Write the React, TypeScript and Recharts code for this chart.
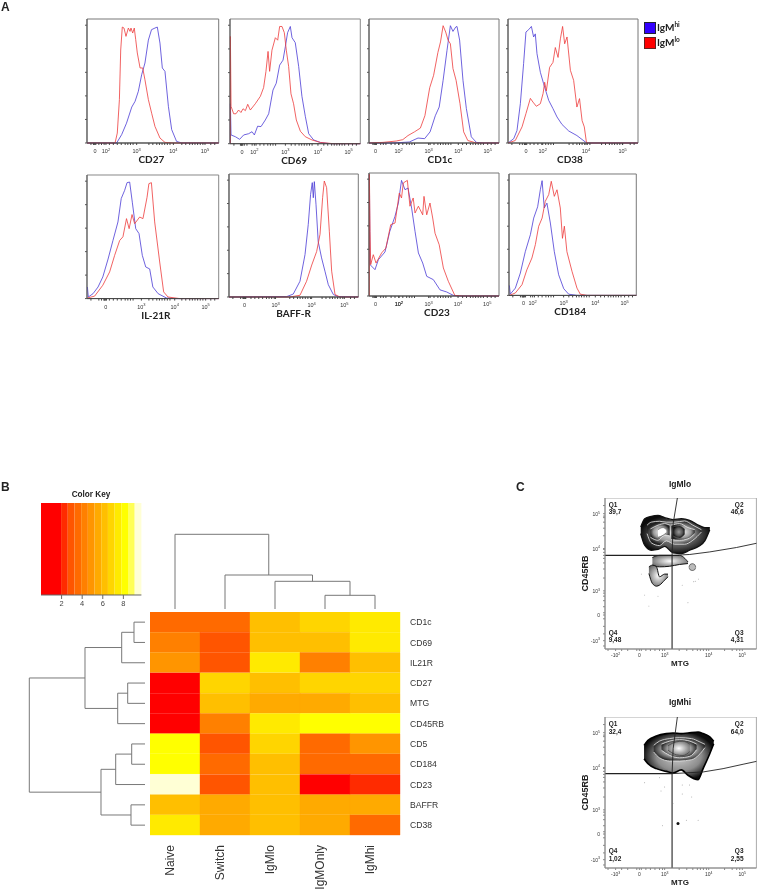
import React from 'react';
import {
  Area,
  Bar,
  BarChart,
  Cell,
  ComposedChart,
  Line,
  LineChart,
  ReferenceArea,
  XAxis,
  YAxis,
} from 'recharts';

// Panel A: histograms, [channel %, % of max]
const cd27Hi = [[0,0],[22.5,0],[26.3,6.7],[30,16],[34,29],[36.5,33.6],[39,41.7],[41.5,55],[44,64.5],[46.6,83],[49,91.4],[51.6,92.7],[53.4,93.5],[55.4,80.6],[57.2,60.5],[59.2,57.8],[61.8,29.6],[64.3,10.8],[68,1.3],[71.9,0],[100,0]];
const cd27Lo = [[0,0],[21.3,0],[23,8],[24.6,35],[25.6,75],[26.8,93.5],[28.1,92.7],[29.6,86],[31.4,92.7],[32.7,90],[33.4,92.7],[34.7,88.7],[35.9,92.7],[37,83.3],[38.2,72.6],[40.3,60.5],[42.3,60.5],[44,51],[46.6,35],[49.1,24],[51.6,13.4],[55.4,4],[59.2,0.5],[65.6,0],[100,0]];
const cd69Hi = [[0.3,0],[0.3,32],[0.8,7],[4.1,5.6],[7.4,3.5],[10.5,7],[14.3,8],[16.9,9.6],[18.7,7],[21.2,14],[23.8,13.7],[27.1,19],[29.7,24],[33,43],[35.5,48.5],[38.1,63],[40.7,67],[42.5,78],[44.2,89],[46.3,94],[47.6,85],[50.1,81],[52.7,62],[55.2,38],[57.8,22],[60.4,8],[64.2,3],[69.3,1],[77,0],[100,0]];
const cd69Lo = [[0.3,0],[0.3,86],[0.8,30],[2.8,24],[4.6,24],[6.6,27],[8.4,25],[10,28],[11.8,26.5],[13.6,31.6],[15.6,27],[19.4,32],[23.3,38],[25.8,45],[27.6,58],[29.2,74],[30.4,58],[32.2,75],[34.8,85],[36.6,83],[38.1,94],[39.9,94],[41.7,89],[43.2,75],[45,62],[46.8,40],[48.8,32],[50.9,19],[54,10],[57.8,5.6],[62.9,3],[69.3,1],[79.5,0],[100,0]];
const cd1cHi = [[0,0],[18.5,0],[31,0.8],[37.7,4],[42.8,3.5],[47,9],[51,22],[54,29],[57,50.5],[60,74.7],[62.6,94.6],[64.6,90],[66.7,93.5],[67.7,94],[69.7,83],[72.3,50.5],[74.9,27.7],[78.7,5],[82.6,0.5],[87.7,0],[100,0]];
const cd1cLo = [[0,0],[10.8,0.5],[21,1.6],[26,2.7],[30,6],[35,9],[39.5,12],[43,22],[46.7,44.6],[49.7,54.6],[53,73],[55,81.5],[57,94.6],[59,89.5],[60.8,83],[62.6,80],[64.6,60],[67,50.5],[70,31.7],[72.8,9],[76,2],[82.6,0],[100,0]];
const cd38Hi = [[0,0],[4.4,3.5],[6.9,10],[9.5,31.7],[12,64],[13.8,89.5],[15.9,91.4],[18,94],[19.7,85.5],[21,88],[22.3,72],[24.9,57],[27.4,47.8],[31.3,34.4],[34.6,27.7],[37.7,21],[41.5,15],[46.7,9.7],[53,6],[59.5,0.8],[60.8,0],[100,0]];
const cd38Lo = [[0,0],[5.6,2],[10.8,13],[13.8,23.7],[17.2,36],[19.2,33],[21.8,29.6],[24.9,31.7],[27,40],[28.2,49],[29.5,42],[32,61],[34.6,65],[36.4,77],[38.5,69],[40.3,84],[42,94],[43.6,80],[45.4,85.5],[48,58.6],[50.5,50.5],[53,29],[55,35.8],[57,18],[58.7,13],[60.3,0.8],[60.8,0],[100,0]];
const il21rHi = [[0.3,9.4],[1,1.3],[4.6,4],[8.4,9.4],[12,17.5],[16,32],[19.7,47],[23.5,62],[26,81],[28.6,87.6],[30.4,93.8],[32.4,94.3],[34.4,78],[37,56.6],[39.5,52.6],[42,35],[44.6,25.6],[47.6,24],[50,9.4],[54,4],[60.3,0.5],[66.6,0],[100,0]];
const il21rLo = [[0.3,0.5],[5.8,2],[12,10.8],[17.2,21.6],[21,35],[24.8,47],[27.3,50],[30,64.7],[32,56.6],[34.2,68],[36.2,60.6],[40,66],[42.5,64.7],[45.6,82],[47,93],[48.9,93.8],[51.4,62],[55.2,29.6],[58.2,5.4],[61.5,1.3],[70.4,0],[100,0]];
const baffHi = [[0,0],[44.6,0.3],[49.7,2.4],[54.9,12.8],[58.8,34.5],[61.3,59],[63.1,83.4],[64.4,93],[65.2,80.7],[66,93.8],[67.3,75],[69,45],[71.6,31.8],[74.2,21],[76.8,10],[80.7,2],[84.5,0.3],[100,0]];
const baffLo = [[0,0],[47,0],[54.9,1.4],[60,12.8],[64,26],[67.8,37],[70.4,51],[72.4,80.7],[73.7,94.3],[75.5,88.9],[77.6,53.5],[79.4,21],[82,2],[85.8,0],[100,0]];
const cd23Hi = [[0.3,98.6],[0.8,25.5],[4.6,21.4],[7.2,29.5],[12.3,35.8],[16,52.6],[20,64.8],[22.6,75.6],[25,94],[27.7,86.4],[30,87.8],[32.8,71.5],[35.4,52.6],[38,35],[41.3,26.8],[44.4,16],[49.5,13.3],[54.6,5],[59.7,3.3],[64.9,0.5],[70,0],[100,0]];
const cd23Lo = [[0.3,0],[0.3,99],[0.8,52.6],[1.3,25.5],[3.3,33.6],[5.4,26.8],[9.7,35],[13,39],[16.7,58],[20,59.3],[23.3,83.7],[25,79.7],[26.4,91.9],[29.5,94],[31.5,73],[34,79.7],[35.4,67.5],[38,73],[41.3,66],[42.3,81],[44.4,66],[46.9,75.6],[49,63.4],[50.8,51],[54,41.7],[57.2,22.8],[61,12],[66,0.5],[72.6,0],[100,0]];
const cd184Hi = [[0.3,8.2],[1,1],[5,6],[8.9,18.4],[12.8,36],[16.8,50],[19.4,63.7],[22.5,73],[24.6,87],[26,94.5],[27.7,72],[29.8,76],[32.5,59.6],[35.6,36],[39,17],[43,5.5],[46.9,1],[53.4,0],[100,0]];
const cd184Lo = [[0.3,0],[5,2],[10.2,8.8],[14,21],[18,30.8],[20.7,41.8],[23.3,56.9],[26,63.7],[28.5,77.5],[31.2,83],[33.2,94],[35.6,81.6],[37.7,87],[40.3,72],[42,47],[43.5,57],[45.5,36],[49.5,19.8],[53.4,6],[56,1],[61.3,0],[100,0]];

const histYTicks = [0, 19, 38, 57, 76, 95];
const histMinorTicks = [3, 9, 11, 13, 17, 20, 23, 26, 29, 31, 33, 35, 47, 50, 53, 55, 57, 59, 61, 63, 72, 75, 78, 80, 82, 84, 86, 88, 94, 97];

// Panel B
const heatColumns = ['Naive', 'Switch', 'IgMlo', 'IgMOnly', 'IgMhi'];
const heatRows = ['CD1c', 'CD69', 'IL21R', 'CD27', 'MTG', 'CD45RB', 'CD5', 'CD184', 'CD23', 'BAFFR', 'CD38'];
const heatValues = [
  [3.6, 3.6, 6.2, 6.8, 7.5],
  [4.2, 2.9, 6.2, 6.2, 7.5],
  [4.9, 2.9, 7.5, 4.2, 6.2],
  [1, 6.8, 6.2, 6.8, 6.8],
  [1, 6.2, 5.5, 5.5, 6.2],
  [1, 4.2, 7.5, 8.1, 8.1],
  [8.1, 2.9, 6.8, 3.6, 4.9],
  [8.1, 3.6, 6.2, 3.6, 3.6],
  [9.4, 2.9, 6.2, 1, 2.3],
  [6.2, 5.5, 6.2, 5.5, 5.5],
  [7.5, 5.5, 6.2, 5.5, 3.6],
];
const keyColors = ['#FF0000', '#FF2B00', '#FF5500', '#FF6A00', '#FF8000', '#FF9500', '#FFAA00', '#FFBF00', '#FFD500', '#FFEA00', '#FFFF00', '#FFFF55', '#FFFFD5'];
const keyEdges = [1.95, 2.6, 3.25, 3.9, 4.55, 5.2, 5.85, 6.5, 7.15, 7.8, 8.45, 9.1, 9.75];
const keyTicks = [2, 4, 6, 8];

// dendrogram links: [pos a, height a, pos b, height b, merge height]
const columnLinks = [
  [3.5, 0, 4.5, 0, 13.7],
  [2.5, 0, 4, 13.7, 27.7],
  [1.5, 0, 3.25, 27.7, 34],
  [0.5, 0, 2.375, 34, 74.7],
];
const rowLinks = [
  [0, 0, 1, 0, 11.3],
  [0.5, 11.3, 2, 0, 23.6],
  [3, 0, 4, 0, 17.6],
  [3.5, 17.6, 5, 0, 27.6],
  [1.25, 23.6, 4.25, 27.6, 60.3],
  [6, 0, 7, 0, 13.6],
  [6.5, 13.6, 8, 0, 29.6],
  [9, 0, 10, 0, 14.3],
  [7.25, 29.6, 9.5, 14.3, 44.3],
  [2.75, 60.3, 8.375, 44.3, 116],
];

// Panel C: contour bands, [channel %, low %, high %]
const loOuter = [[23.6,76.4,80.8],[26.2,68.7,86.3],[30.6,65.4,87.9],[35,65.9,88.5],[39.4,68,87],[44.9,63.7,85.7],[50.4,63.2,86.3],[55.9,65.4,85.2],[62,68,81.9],[65.9,71.6,80.4],[69.2,79,80.4]];
const loMiddle = [[27.8,76.4,82],[30.6,70.3,84],[36,68.5,84.6],[40.5,71.6,84],[46,69.4,84],[52.6,69.4,84.8],[58,72,82],[63.7,77.5,79]];
const loLobeLeft = [[30,74,79.5],[35,72,82],[39.4,75.3,83],[42.7,75,82]];
const loLobeRight = [[43.8,72.5,82],[49.3,72,83],[54.8,73,80.4],[59.3,76.4,79]];
const loCoreLeft = [[35,74,79],[38.3,75.3,80.4],[40.5,77,79]];
const loCoreRight = [[45,75,81],[49.3,73.5,81.5],[52.6,76,79.5]];
const loMid = [[31.3,55.5,60.6],[36,54.4,62],[42.7,54.8,62],[49.3,56,62],[54.8,56.6,57.7]];
const loCircle = [[55.5,54,54.4],[56.2,52.5,55.9],[57.7,52,56.5],[59.2,52.5,55.9],[59.9,54,54.4]];
const loLower = [[29,50,54.4],[31.3,43.4,55.5],[34,41.6,54.4],[36,42.3,47.8],[39.4,45.6,49.6],[41.6,47.8,49.6]];
const loDots = [[24,49.6],[26.2,35.7],[29,28.4],[35,35],[54.8,30.6],[51,42.3],[58.6,44.5],[59.6,44.9],[61.7,46.3]];
const hiOuter = [[25.8,72.4,81.2],[28.4,69,84.5],[33.9,65.8,87.4],[40.5,64,89],[44.9,62.9,89.4],[50.4,65,89],[54.8,61.4,89.4],[61.5,58.5,90],[64.8,65.8,89],[69.2,75.7,86.8],[71.8,82.3,84]];
const hiMiddle = [[32.2,76.8,81.2],[36,73,84],[42.7,70.9,85.7],[49.3,70.9,86.3],[57,71.7,85.7],[62.8,75.7,83.4],[66,79.7,81.9]];
const hiInner = [[37.3,78,82],[42.7,74.6,84],[49.3,73,85],[56,74,84],[60.5,78.4,82]];
const hiCore = [[41.6,78,81],[47,75,83.5],[51.5,74.5,84],[56,77,82]];
const hiDots = [[26.2,56.5],[36,59.8],[39.4,53.6],[37,51],[51,55],[55.8,55],[51,49],[57.3,47],[44.9,42.6],[53.7,31.6],[61.5,31.6],[37.9,28]];
const hiBigDots = [[48.2,29.4]];

const loGateLeft = [[0,62],[44.3,62],[44.3,0]];
const loGateUp = [[44.3,62],[45,83],[47.8,100]];
const loGateRight = [[44.3,62],[56,62.6],[69.2,64.3],[86.8,67.2],[100,70]];
const hiGateLeft = [[0,62.5],[44.3,62.5],[44.3,0]];
const hiGateUp = [[44.3,62.5],[45,79],[47.8,100]];
const hiGateRight = [[44.3,62.5],[64.8,63.6],[78,65.8],[91.2,68.7],[100,70.6]];

const flowXTicks = [7, 22.7, 39.4, 68.5, 90.7];
const flowYTicks = [5.5, 22.5, 38.5, 66.5, 89.6];
const flowXMinor = [2, 11, 15, 21, 24, 27, 30, 33, 36, 38, 49, 54, 58, 61, 63, 65, 67, 79, 84, 87, 89];
const flowYMinor = [2, 10, 15, 20, 24, 28, 32, 35, 37, 47, 53, 57, 60, 62, 64, 66, 75, 80, 84, 87, 88, 95];

const BLUE = '#4A3BD6';
const RED = '#EE3B3B';
const SANS = '"Liberation Sans", Arial, sans-serif';

const toXY = (rows: number[][]) => rows.map(([x, y]) => ({ x, y }));
const toBand = (rows: number[][]) => rows.map(([x, lo, hi]) => ({ x, band: [lo, hi] }));
const colorFor = (value: number) => keyColors[keyEdges.findIndex((edge) => value <= edge)];

const PowerLabel = ({ x, y, text, anchor = 'middle', size = 5.5 }: any) => {
  const [base, power] = text.split('^');
  return (
    <text x={x} y={y} textAnchor={anchor} fontFamily={SANS} fontSize={size} fill="#333">
      <tspan>{base}</tspan>
      {power && <tspan dy={-2.2} fontSize={size - 1.5}>{power}</tspan>}
    </text>
  );
};

interface HistProps {
  left: number;
  top: number;
  width: number;
  height: number;
  title: string;
  titleShift: number;
  ticks: number[];
  labels: string[];
  hi: number[][];
  lo: number[][];
  border?: string;
}

const Histogram = ({ left, top, width, height, title, titleShift, ticks, labels, hi, lo, border = '#777' }: HistProps) => (
  <div style={{ position: 'absolute', left: left - 8, top: top - 1 }}>
    <ComposedChart width={width + 10} height={height + 27} margin={{ top: 1, right: 2, left: 0, bottom: 0 }}>
      <XAxis
        type="number"
        dataKey="x"
        domain={[0, 100]}
        ticks={[...ticks, ...histMinorTicks, ticks[0] - 1.2, ticks[0] - 0.6, ticks[0] + 0.6]}
        interval={0}
        height={26}
        stroke="#444"
        tickSize={2}
        tick={(p: any) => {
          const i = ticks.indexOf(p.payload.value);
          return i < 0 ? <g /> : <PowerLabel x={p.x} y={height + 11} text={labels[i]} />;
        }}
        label={{ value: title, position: 'insideBottom', offset: 6, dx: titleShift, style: { fontFamily: 'Lato', fontWeight: 700, fontSize: 10, fill: '#222' } }}
      />
      <YAxis type="number" domain={[0, 100]} ticks={histYTicks} width={8} stroke="#555" tickSize={2} tickFormatter={() => ''} />
      <ReferenceArea x1={0} x2={100} y1={0} y2={100} fill="#fff" fillOpacity={0} stroke={border} strokeWidth={1} />
      <Line data={toXY(hi)} dataKey="y" stroke={BLUE} strokeWidth={0.8} dot={false} isAnimationActive={false} />
      <Line data={toXY(lo)} dataKey="y" stroke={RED} strokeWidth={0.8} dot={false} isAnimationActive={false} />
    </ComposedChart>
  </div>
);

const band = (rows: number[][], fill: string, stroke: string, strokeWidth = 0.8) => (
  <Area
    data={toBand(rows)}
    dataKey="band"
    type="monotone"
    fill={fill}
    fillOpacity={1}
    stroke={stroke}
    strokeWidth={strokeWidth}
    dot={false}
    isAnimationActive={false}
  />
);

const flowXLabels = (hiPlot: boolean) => ['-10^' + (hiPlot ? '3' : '2'), '0', '10^3', '10^4', '10^5'];
const flowYLabels = ['-10^3', '0', '10^3', '10^4', '10^5'];

const gate = (rows: number[][], width = 0.9) => (
  <Line data={toXY(rows)} dataKey="y" stroke="#222" strokeWidth={width} dot={false} isAnimationActive={false} />
);

const FlowPlot = ({ top, isHi }: { top: number; isHi: boolean }) => (
  <div style={{ position: 'absolute', left: 573.3, top }}>
    <ComposedChart width={184} height={163} margin={{ top: 0, right: 0.6, left: 0, bottom: 0 }}>
      <defs>
        <radialGradient id={`edge${top}`} r="52%">
          <stop offset="0%" stopColor={isHi ? '#d0d0d0' : '#999'} />
          <stop offset="62%" stopColor={isHi ? '#8c8c8c' : '#555'} />
          <stop offset="100%" stopColor="#0c0c0c" />
        </radialGradient>
        <radialGradient id={`mid${top}`} r="52%">
          <stop offset="0%" stopColor="#f0f0f0" />
          <stop offset="65%" stopColor="#9a9a9a" />
          <stop offset="100%" stopColor="#222" />
        </radialGradient>
        <radialGradient id={`core${top}`} r="60%">
          <stop offset="0%" stopColor="#fff" />
          <stop offset="100%" stopColor="#666" />
        </radialGradient>
      </defs>
      <XAxis
        type="number"
        dataKey="x"
        domain={[0, 100]}
        ticks={[...flowXTicks, ...flowXMinor]}
        interval={0}
        height={12}
        stroke="#888"
        tickSize={2}
        tick={(p: any) => {
          const i = flowXTicks.indexOf(p.payload.value);
          return i < 0 ? <g /> : <PowerLabel x={p.x} y={159} text={flowXLabels(isHi)[i]} size={5} />;
        }}
      />
      <YAxis
        type="number"
        domain={[0, 100]}
        ticks={[...flowYTicks, ...flowYMinor]}
        interval={0}
        width={32}
        stroke="#888"
        tickSize={2}
        tick={(p: any) => {
          const i = flowYTicks.indexOf(p.payload.value);
          return i < 0 ? <g /> : <PowerLabel x={p.x - 1} y={p.y + 2} anchor="end" text={flowYLabels[i]} size={5} />;
        }}
        label={{ value: 'CD45RB', angle: -90, position: 'insideLeft', dx: 7, style: { textAnchor: 'middle', fontFamily: SANS, fontWeight: 700, fontSize: 9, fill: '#222' } }}
      />
      <ReferenceArea x1={0} x2={100} y1={0} y2={100} fill="#fff" fillOpacity={0} stroke="#aaa" strokeWidth={1} />
      {isHi ? band(hiOuter, `url(#edge${top})`, '#000', 1.6) : band(loOuter, `url(#edge${top})`, '#111', 1.3)}
      {isHi ? band(hiMiddle, `url(#mid${top})`, '#eee') : band(loMiddle, `url(#mid${top})`, '#eee')}
      {isHi ? band(hiInner, `url(#mid${top})`, '#eee') : band(loLobeLeft, `url(#mid${top})`, '#eee')}
      {isHi ? band(hiCore, `url(#core${top})`, '#444') : band(loLobeRight, `url(#mid${top})`, '#eee')}
      {!isHi && band(loCoreLeft, '#fff', '#333', 0.5)}
      {!isHi && band(loCoreRight, `url(#edge${top})`, '#555', 0.4)}
      {!isHi && band(loMid, `url(#core${top})`, '#111', 1)}
      {!isHi && band(loCircle, '#bbb', '#333', 0.7)}
      {!isHi && band(loLower, `url(#core${top})`, '#111', 1)}
      {gate(isHi ? hiGateLeft : loGateLeft, 1.1)}
      {gate(isHi ? hiGateUp : loGateUp)}
      {gate(isHi ? hiGateRight : loGateRight)}
      <Line data={toXY(isHi ? hiDots : loDots)} dataKey="y" stroke="none" dot={{ r: 0.45, fill: '#777', stroke: 'none' }} isAnimationActive={false} />
      {isHi && <Line data={toXY(hiBigDots)} dataKey="y" stroke="none" dot={{ r: 1.5, fill: '#111', stroke: 'none' }} isAnimationActive={false} />}
    </ComposedChart>
  </div>
);

const Note = ({ x, y, children, align = 'left', size = 6.5, weight = 700, font = SANS }: any) => (
  <div
    style={{
      position: 'absolute',
      left: align === 'left' ? x : align === 'center' ? x - 60 : x - 120,
      top: y,
      width: align === 'left' ? undefined : 120,
      textAlign: align,
      fontFamily: font,
      fontSize: size,
      fontWeight: weight,
      lineHeight: 1,
      color: '#222',
      whiteSpace: 'nowrap',
    }}
  >
    {children}
  </div>
);

const links = (rows: number[][], toPoint: (pos: number, h: number) => any) =>
  rows.map(([a, ha, b, hb, m], i) => (
    <Line
      key={i}
      data={[toPoint(a, ha), toPoint(a, m), toPoint(b, m), toPoint(b, hb)]}
      dataKey="v"
      stroke="#777"
      strokeWidth={1}
      dot={false}
      isAnimationActive={false}
    />
  ));

const heatTable = heatRows.map((row, r) => {
  const entry: Record<string, any> = { row };
  heatColumns.forEach((c) => {
    entry[c] = 1;
  });
  entry.values = heatValues[r];
  return entry;
});

const keyRow: Record<string, any> = { name: 'key' };
keyEdges.forEach((edge, i) => {
  keyRow[`bin${i}`] = i === 0 ? edge : edge - keyEdges[i - 1];
});

export default function App() {
  return (
    <div style={{ position: 'absolute', left: 0, top: 0, width: 758, height: 891, overflow: 'hidden', background: '#fff', filter: 'blur(0.35px)' }}>
      <Note x={1} y={1} size={12}>A</Note>
      <Note x={1} y={481} size={12}>B</Note>
      <Note x={516} y={481} size={12}>C</Note>

      <Histogram left={87} top={19.3} width={131.7} height={124} title="CD27" titleShift={-1.5} ticks={[6.1, 14.4, 37.7, 65.6, 89.6]} labels={['0', '10^2', '10^3', '10^4', '10^5']} hi={cd27Hi} lo={cd27Lo} />
      <Histogram left={229.7} top={19} width={130.3} height={124.7} title="CD69" titleShift={-1} ticks={[9.2, 18.7, 42.5, 67.5, 91]} labels={['0', '10^2', '10^3', '10^4', '10^5']} hi={cd69Hi} lo={cd69Lo} border="#888" />
      <Histogram left={369.3} top={18.7} width={130} height={124} title="CD1c" titleShift={6} ticks={[5.1, 22.8, 45.9, 68.7, 91.3]} labels={['0', '10^2', '10^3', '10^4', '10^5']} hi={cd1cHi} lo={cd1cLo} />
      <Histogram left={507.7} top={18.7} width={130} height={124} title="CD38" titleShift={-3} ticks={[13.8, 26.7, 60, 88.2]} labels={['0', '10^2', '10^4', '10^5']} hi={cd38Hi} lo={cd38Lo} />
      <Histogram left={87.3} top={174.7} width={131.7} height={123.6} title="IL-21R" titleShift={3} ticks={[14.2, 41.3, 66.6, 90.1]} labels={['0', '10^3', '10^4', '10^5']} hi={il21rHi} lo={il21rLo} border="#888" />
      <Histogram left={229} top={174.3} width={129.3} height={123} title="BAFF-R" titleShift={0} ticks={[12.1, 36, 63.9, 89.2]} labels={['0', '10^3', '10^4', '10^5']} hi={baffHi} lo={baffLo} />
      <Histogram left={369} top={173.3} width={130} height={123} title="CD23" titleShift={3} ticks={[5.1, 23, 45.9, 68.5, 91]} labels={['0', '10^2', '10^3', '10^4', '10^5']} hi={cd23Hi} lo={cd23Lo} />
      <Histogram left={508.7} top={174.3} width={127.3} height={121.4} title="CD184" titleShift={-2.5} ticks={[11.5, 18.6, 42.9, 67.8, 90.8]} labels={['0', '10^2', '10^3', '10^4', '10^5']} hi={cd184Hi} lo={cd184Lo} />

      <div style={{ position: 'absolute', left: 644, top: 22, width: 10, height: 10, background: '#3300FF', border: '1px solid #223' }} />
      <div style={{ position: 'absolute', left: 644, top: 37, width: 10, height: 10, background: '#FF0000', border: '1px solid #622' }} />
      <Note x={657} y={22} size={10} font="Lato">IgM<sup style={{ fontSize: 6.5 }}>hi</sup></Note>
      <Note x={657} y={37} size={10} font="Lato">IgM<sup style={{ fontSize: 6.5 }}>lo</sup></Note>

      <Note x={91} y={491} size={8.2} align="center">Color Key</Note>
      <div style={{ position: 'absolute', left: 41.3, top: 502.7 }}>
        <BarChart width={100.4} height={112} layout="vertical" data={[keyRow]} barCategoryGap={0} margin={{ top: 0, right: 0, left: 0, bottom: 0 }}>
          <XAxis
            type="number"
            domain={[0, 9.75]}
            ticks={keyTicks}
            height={20}
            stroke="#666"
            tickSize={4}
            tick={{ fontSize: 7.5, fontFamily: SANS, fill: '#444' }}
          />
          <YAxis type="category" dataKey="name" hide />
          {keyColors.map((color, i) => (
            <Bar key={color} dataKey={`bin${i}`} stackId="key" fill={color} isAnimationActive={false} />
          ))}
        </BarChart>
      </div>

      <div style={{ position: 'absolute', left: 150, top: 530 }}>
        <LineChart width={250} height={79} margin={{ top: 0, right: 0, left: 0, bottom: 0 }}>
          <XAxis type="number" dataKey="p" domain={[0, 5]} hide />
          <YAxis type="number" domain={[0, 79]} hide />
          {links(columnLinks, (p, v) => ({ p, v }))}
        </LineChart>
      </div>

      <div style={{ position: 'absolute', left: 27, top: 611.7 }}>
        <LineChart width={118.3} height={223.3} margin={{ top: 0, right: 0, left: 0, bottom: 0 }}>
          <XAxis type="number" dataKey="h" domain={[0, 118.3]} reversed hide />
          <YAxis type="number" domain={[-0.5, 10.5]} reversed hide />
          {links(rowLinks, (v, h) => ({ h, v }))}
        </LineChart>
      </div>

      <div style={{ position: 'absolute', left: 150, top: 611.7 }}>
        <BarChart width={300} height={279} layout="vertical" data={heatTable} barCategoryGap={0} margin={{ top: 0, right: 0, left: 0, bottom: 0 }}>
          <XAxis
            type="number"
            domain={[0, 5]}
            ticks={[0.5, 1.5, 2.5, 3.5, 4.5]}
            interval={0}
            height={55.7}
            axisLine={false}
            tickLine={false}
            tick={(p: any) => {
              const label = heatColumns[Math.floor(p.payload.value)];
              const y = 233;
              return (
                <text transform={`rotate(-90 ${p.x - 5} ${y})`} x={p.x - 5} y={y} textAnchor="end" dominantBaseline="central" fontFamily={SANS} fontSize={12} fill="#333">
                  {label}
                </text>
              );
            }}
          />
          <YAxis
            type="category"
            dataKey="row"
            orientation="right"
            width={50}
            axisLine={false}
            tickLine={false}
            tickSize={8}
            tickMargin={2}
            interval={0}
            tick={{ fontSize: 8.6, fontFamily: SANS, fill: '#333', textAnchor: 'start' }}
          />
          {heatColumns.map((col, c) => (
            <Bar key={col} dataKey={col} stackId="heat" isAnimationActive={false}>
              {heatTable.map((entry) => (
                <Cell key={entry.row} fill={colorFor(entry.values[c])} stroke={colorFor(entry.values[c])} strokeWidth={0.4} />
              ))}
            </Bar>
          ))}
        </BarChart>
      </div>

      <Note x={680} y={480} size={8.5} align="center">IgMlo</Note>
      <FlowPlot top={497.7} isHi={false} />
      <Note x={680} y={660} size={8} align="center">MTG</Note>
      <Note x={608.7} y={502} >Q1</Note>
      <Note x={608.7} y={509} >39,7</Note>
      <Note x={743.5} y={502} align="right">Q2</Note>
      <Note x={743.5} y={509} align="right">46,6</Note>
      <Note x={608.7} y={629.5} >Q4</Note>
      <Note x={608.7} y={637} >9,48</Note>
      <Note x={743.5} y={629.5} align="right">Q3</Note>
      <Note x={743.5} y={637} align="right">4,31</Note>

      <Note x={680} y={698} size={8.5} align="center">IgMhi</Note>
      <FlowPlot top={716.7} isHi />
      <Note x={680} y={879} size={8} align="center">MTG</Note>
      <Note x={608.7} y={721} >Q1</Note>
      <Note x={608.7} y={729} >32,4</Note>
      <Note x={743.5} y={721} align="right">Q2</Note>
      <Note x={743.5} y={729} align="right">64,0</Note>
      <Note x={608.7} y={848} >Q4</Note>
      <Note x={608.7} y={856} >1,02</Note>
      <Note x={743.5} y={848} align="right">Q3</Note>
      <Note x={743.5} y={856} align="right">2,55</Note>
    </div>
  );
}
